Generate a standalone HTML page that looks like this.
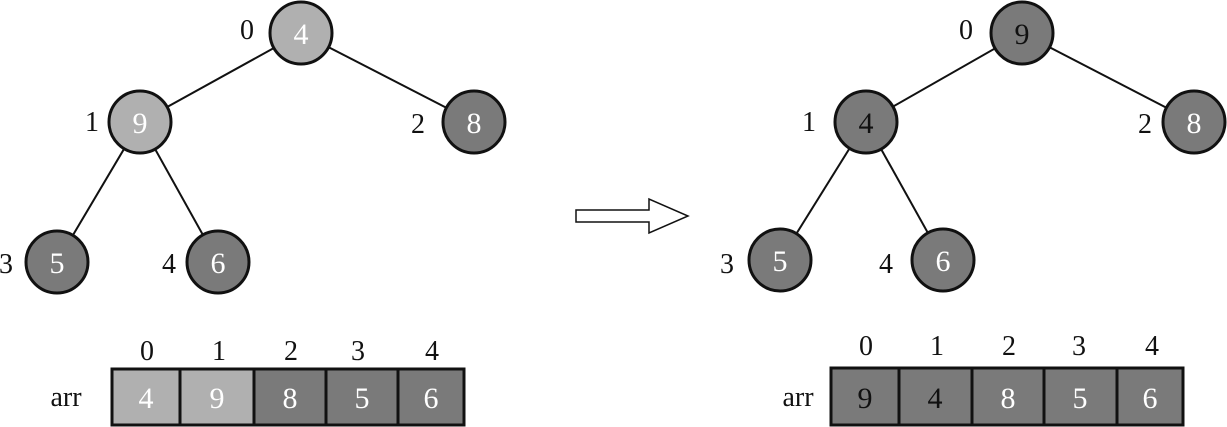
<!DOCTYPE html>
<html><head><meta charset="utf-8"><style>body{margin:0;background:#fff}svg{display:block}text{font-family:"Liberation Serif",serif}</style></head><body>
<svg width="1227" height="427" viewBox="0 0 1227 427">
<g stroke="#111" stroke-width="2">
<line x1="301" y1="33" x2="140" y2="122"/><line x1="301" y1="33" x2="474" y2="122"/>
<line x1="140" y1="122" x2="57" y2="262"/><line x1="140" y1="122" x2="218" y2="262"/>
<line x1="1022" y1="33" x2="866" y2="122"/><line x1="1022" y1="33" x2="1194" y2="122"/>
<line x1="866" y1="122" x2="780" y2="260"/><line x1="866" y1="122" x2="943" y2="260"/>
</g>
<g stroke="#111" stroke-width="3">
<circle cx="301" cy="33" r="31" fill="#b0b0b0"/><circle cx="140" cy="122" r="31" fill="#b0b0b0"/>
<circle cx="474" cy="122" r="31" fill="#7a7a7a"/><circle cx="57" cy="262" r="31" fill="#7a7a7a"/>
<circle cx="218" cy="262" r="31" fill="#7a7a7a"/>
<circle cx="1022" cy="33" r="31" fill="#7a7a7a"/><circle cx="866" cy="122" r="31" fill="#7a7a7a"/>
<circle cx="1194" cy="122" r="31" fill="#7a7a7a"/><circle cx="780" cy="260" r="31" fill="#7a7a7a"/>
<circle cx="943" cy="260" r="31" fill="#7a7a7a"/>
</g>
<g font-size="30" text-anchor="middle" fill="#fff">
<text x="301" y="44">4</text><text x="140" y="133">9</text><text x="474" y="133">8</text>
<text x="57" y="273">5</text><text x="218" y="273">6</text>
<text x="1022" y="44" fill="#111">9</text><text x="866" y="133" fill="#111">4</text>
<text x="1194" y="133">8</text><text x="780" y="271">5</text><text x="943" y="271">6</text>
</g>
<g font-size="28" text-anchor="middle" fill="#111">
<text x="247" y="39">0</text><text x="92" y="131">1</text><text x="418" y="133">2</text>
<text x="6" y="273">3</text><text x="169" y="273">4</text>
<text x="966" y="39">0</text><text x="809" y="131">1</text><text x="1145" y="133">2</text>
<text x="727" y="273">3</text><text x="886" y="273">4</text>
<text x="147" y="360">0</text><text x="219" y="360">1</text><text x="291" y="360">2</text><text x="358" y="360">3</text><text x="432" y="360">4</text>
<text x="866" y="355">0</text><text x="937" y="355">1</text><text x="1009" y="355">2</text><text x="1079" y="355">3</text><text x="1152" y="355">4</text>
<text x="66" y="406">arr</text><text x="798" y="406">arr</text>
</g>
<g stroke="#111" stroke-width="3">
<rect x="112" y="369" width="68" height="56" fill="#b0b0b0"/><rect x="180" y="369" width="74" height="56" fill="#b0b0b0"/>
<rect x="254" y="369" width="72" height="56" fill="#7a7a7a"/><rect x="326" y="369" width="72" height="56" fill="#7a7a7a"/>
<rect x="398" y="369" width="66" height="56" fill="#7a7a7a"/>
<rect x="831" y="368" width="68" height="57" fill="#7a7a7a"/><rect x="899" y="368" width="73" height="57" fill="#7a7a7a"/>
<rect x="972" y="368" width="72" height="57" fill="#7a7a7a"/><rect x="1044" y="368" width="73" height="57" fill="#7a7a7a"/>
<rect x="1117" y="368" width="66" height="57" fill="#7a7a7a"/>
</g>
<g font-size="30" text-anchor="middle" fill="#fff">
<text x="146" y="408">4</text><text x="217" y="408">9</text><text x="290" y="408">8</text><text x="362" y="408">5</text><text x="431" y="408">6</text>
<text x="865" y="408" fill="#111">9</text><text x="935" y="408" fill="#111">4</text><text x="1008" y="408">8</text><text x="1080" y="408">5</text><text x="1150" y="408">6</text>
</g>
<polygon points="576,210 649,210 649,199 688,216 649,233 649,222 576,222" fill="#fff" stroke="#111" stroke-width="1.5"/>
</svg>
</body></html>
